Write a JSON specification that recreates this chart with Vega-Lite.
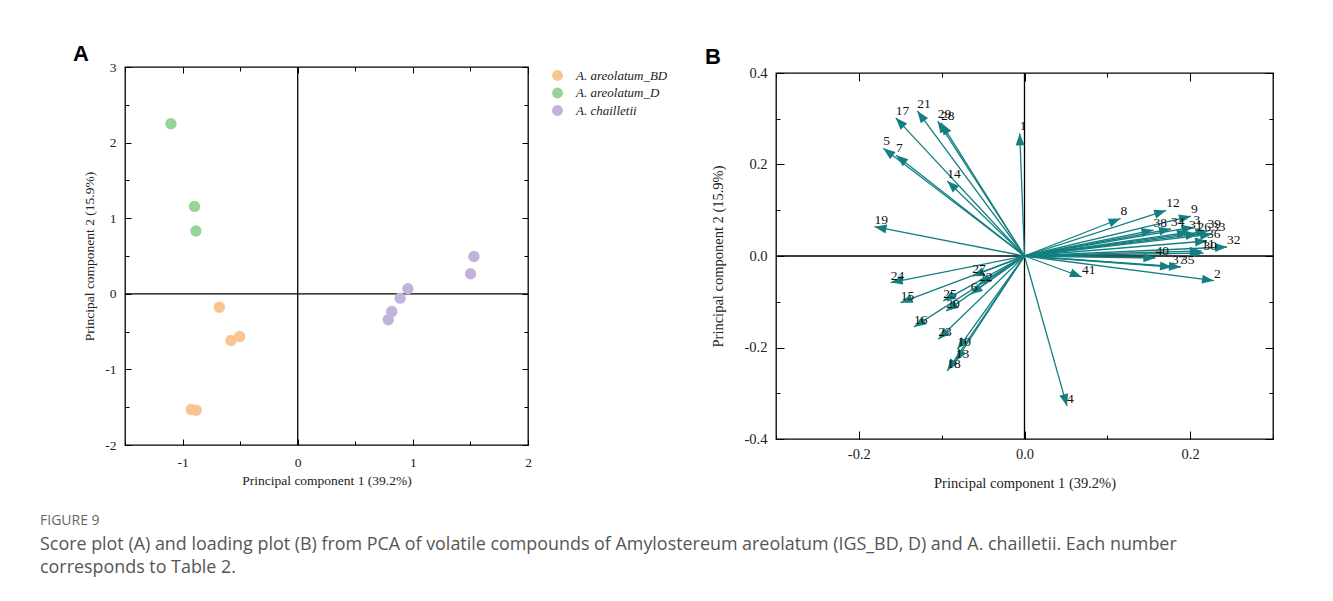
{
  "$schema": "https://vega.github.io/schema/vega-lite/v6.json",
  "background": "white",
  "padding": {"left": 40, "top": 42, "right": 10, "bottom": 10},
  "spacing": 248,
  "bounds": "flush",
  "center": true,
  "resolve": {"scale": {"color": "independent"}, "legend": {"color": "independent"}},
  "title": {
    "text": "FIGURE 9",
    "subtitle": ["Score plot (A) and loading plot (B) from PCA of volatile compounds of Amylostereum areolatum (IGS_BD, D) and A. chailletii. Each number", "corresponds to Table 2."],
    "orient": "bottom", "anchor": "start", "frame": "group", "dx": -85, "offset": 23,
    "font": "Open Sans", "fontSize": 14, "fontWeight": "normal", "color": "#666666",
    "subtitleFont": "Open Sans", "subtitleFontSize": 17.9, "subtitleColor": "#555555",
    "subtitleLineHeight": 23, "subtitlePadding": 8
  },
  "config": {
    "view": {"stroke": "black", "strokeWidth": 1.3},
    "axis": {
      "labelFont": "Liberation Serif", "titleFont": "Liberation Serif", "titleFontWeight": "normal",
      "labelColor": "#222222", "titleColor": "#222222", "domain": false, "grid": false,
      "tickColor": "black", "tickWidth": 1, "labelFlush": false, "labelOverlap": false
    }
  },
  "hconcat": [
    {
      "width": 403, "height": 378,
      "title": {"text": "A", "anchor": "start", "frame": "group", "dx": -52, "offset": -6, "font": "Liberation Sans", "fontSize": 22, "fontWeight": "bold", "color": "black"},
      "layer": [
        {
          "data": {"values": [{}]},
          "mark": {"type": "rule", "color": "black", "strokeWidth": 1.3},
          "encoding": {
            "y": {"datum": 0, "type": "quantitative", "scale": {"domain": [-2, 3], "nice": false, "zero": false},
              "axis": {"orient": "left", "values": [-2, -1.5, -1, -0.5, 0, 0.5, 1, 1.5, 2, 2.5, 3],
                "labelExpr": "datum.value % 1 === 0 ? '' + datum.value : ''",
                "tickSize": {"condition": {"test": "datum.value % 1 === 0", "value": -6}, "value": -4},
                "labelPadding": 15, "labelFontSize": 13.5,
                "title": "Principal component 2 (15.9%)", "titleFontSize": 13.5, "titlePadding": 8}}
          }
        },
        {
          "data": {"values": [{}]},
          "mark": {"type": "rule", "color": "black", "strokeWidth": 1.3},
          "encoding": {
            "x": {"datum": 0, "type": "quantitative", "scale": {"domain": [-1.5, 2], "nice": false, "zero": false},
              "axis": {"orient": "bottom", "values": [-1.5, -1, -0.5, 0, 0.5, 1, 1.5, 2],
                "labelExpr": "datum.value % 1 === 0 ? '' + datum.value : ''",
                "tickSize": {"condition": {"test": "datum.value % 1 === 0", "value": -6}, "value": -4},
                "labelPadding": 16, "labelFontSize": 13.5,
                "title": "Principal component 1 (39.2%)", "titleFontSize": 13.5, "titlePadding": 3}}
          }
        },
        {
          "data": {"values": [
            {"group": "A. areolatum_BD", "pc1": -0.681, "pc2": -0.177},
            {"group": "A. areolatum_BD", "pc1": -0.58, "pc2": -0.618},
            {"group": "A. areolatum_BD", "pc1": -0.504, "pc2": -0.565},
            {"group": "A. areolatum_BD", "pc1": -0.925, "pc2": -1.531},
            {"group": "A. areolatum_BD", "pc1": -0.881, "pc2": -1.54},
            {"group": "A. areolatum_D", "pc1": -1.101, "pc2": 2.25},
            {"group": "A. areolatum_D", "pc1": -0.896, "pc2": 1.156},
            {"group": "A. areolatum_D", "pc1": -0.884, "pc2": 0.83},
            {"group": "A. chailletii", "pc1": 1.53, "pc2": 0.494},
            {"group": "A. chailletii", "pc1": 1.501, "pc2": 0.265},
            {"group": "A. chailletii", "pc1": 0.957, "pc2": 0.066},
            {"group": "A. chailletii", "pc1": 0.89, "pc2": -0.057},
            {"group": "A. chailletii", "pc1": 0.817, "pc2": -0.234},
            {"group": "A. chailletii", "pc1": 0.786, "pc2": -0.344}
          ]},
          "mark": {"type": "point", "filled": true, "opacity": 1, "size": 130, "shape": "circle"},
          "encoding": {
            "x": {"field": "pc1", "type": "quantitative",
              "axis": {"orient": "top", "values": [-1.5, -1, -0.5, 0, 0.5, 1, 1.5, 2], "labels": false, "title": null,
                "tickSize": {"condition": {"test": "datum.value % 1 === 0", "value": -6}, "value": -4}}},
            "y": {"field": "pc2", "type": "quantitative",
              "axis": {"orient": "right", "values": [-2, -1.5, -1, -0.5, 0, 0.5, 1, 1.5, 2, 2.5, 3], "labels": false, "title": null,
                "tickSize": {"condition": {"test": "datum.value % 1 === 0", "value": -6}, "value": -4}}},
            "color": {"field": "group", "type": "nominal",
              "scale": {"domain": ["A. areolatum_BD", "A. areolatum_D", "A. chailletii"], "range": ["#F9C491", "#97D498", "#C3B3DA"]},
              "legend": {"title": null, "orient": "none", "legendX": 426, "legendY": 2, "padding": 0, "labelFont": "Liberation Serif",
                "labelFontStyle": "italic", "labelFontSize": 13, "labelColor": "#222222", "symbolType": "circle",
                "symbolSize": 120, "symbolOpacity": 1, "symbolStrokeWidth": 0, "rowPadding": 3.5, "labelOffset": 12, "labelLimit": 200}}
          }
        }
      ],
      "resolve": {"axis": {"x": "independent", "y": "independent"}}
    },
    {
      "width": 497, "height": 366,
      "title": {"text": "B", "anchor": "start", "frame": "group", "dx": -71, "offset": -4, "font": "Liberation Sans", "fontSize": 22, "fontWeight": "bold", "color": "black"},
      "data": {"values": [
        {"id": "1", "pc1": -0.0058, "pc2": 0.268},
        {"id": "2", "pc1": 0.2288, "pc2": -0.054},
        {"id": "3", "pc1": 0.204, "pc2": 0.063},
        {"id": "4", "pc1": 0.0513, "pc2": -0.328},
        {"id": "5", "pc1": -0.1705, "pc2": 0.2354},
        {"id": "6", "pc1": -0.065, "pc2": -0.0837},
        {"id": "7", "pc1": -0.155, "pc2": 0.22},
        {"id": "8", "pc1": 0.116, "pc2": 0.082},
        {"id": "9", "pc1": 0.201, "pc2": 0.087},
        {"id": "10", "pc1": -0.081, "pc2": -0.204},
        {"id": "11", "pc1": 0.214, "pc2": 0.011},
        {"id": "12", "pc1": 0.171, "pc2": 0.0995},
        {"id": "13", "pc1": -0.083, "pc2": -0.2295},
        {"id": "14", "pc1": -0.0932, "pc2": 0.164},
        {"id": "15", "pc1": -0.1495, "pc2": -0.102},
        {"id": "16", "pc1": -0.1334, "pc2": -0.155},
        {"id": "17", "pc1": -0.1555, "pc2": 0.302},
        {"id": "18", "pc1": -0.0932, "pc2": -0.251},
        {"id": "19", "pc1": -0.181, "pc2": 0.064},
        {"id": "20", "pc1": -0.0944, "pc2": -0.12},
        {"id": "21", "pc1": -0.1294, "pc2": 0.317},
        {"id": "22", "pc1": -0.055, "pc2": -0.062},
        {"id": "23", "pc1": -0.104, "pc2": -0.182},
        {"id": "24", "pc1": -0.1615, "pc2": -0.058},
        {"id": "25", "pc1": -0.098, "pc2": -0.098},
        {"id": "26", "pc1": 0.209, "pc2": 0.048},
        {"id": "27", "pc1": -0.063, "pc2": -0.044},
        {"id": "28", "pc1": -0.1008, "pc2": 0.291},
        {"id": "29", "pc1": -0.1048, "pc2": 0.295},
        {"id": "30", "pc1": 0.216, "pc2": 0.0066},
        {"id": "31", "pc1": 0.1986, "pc2": 0.052},
        {"id": "32", "pc1": 0.2445, "pc2": 0.0197},
        {"id": "33", "pc1": 0.2264, "pc2": 0.048},
        {"id": "34", "pc1": 0.1769, "pc2": 0.059},
        {"id": "35", "pc1": 0.1889, "pc2": -0.024},
        {"id": "36", "pc1": 0.2204, "pc2": 0.0328},
        {"id": "37", "pc1": 0.1781, "pc2": -0.024},
        {"id": "38", "pc1": 0.1557, "pc2": 0.0568},
        {"id": "39", "pc1": 0.2209, "pc2": 0.0546},
        {"id": "40", "pc1": 0.158, "pc2": -0.0044},
        {"id": "41", "pc1": 0.0693, "pc2": -0.0459}
      ]},
      "layer": [
        {
          "data": {"values": [{}]},
          "mark": {"type": "rule", "color": "black", "strokeWidth": 1.3},
          "encoding": {
            "y": {"datum": 0, "type": "quantitative", "scale": {"domain": [-0.4, 0.4], "nice": false, "zero": false},
              "axis": {"orient": "left", "values": [-0.4, -0.3, -0.2, -0.1, 0, 0.1, 0.2, 0.3, 0.4],
                "labelExpr": "abs(round(datum.value * 10)) % 2 === 0 ? replace(format(datum.value, '.1f'), '\u2212', '-') : ''",
                "tickSize": {"condition": {"test": "abs(round(datum.value * 10)) % 2 === 0", "value": -8}, "value": -4},
                "labelPadding": 17, "labelFontSize": 14.5,
                "title": "Principal component 2 (15.9%)", "titleFontSize": 14.5, "titlePadding": 19}}
          }
        },
        {
          "data": {"values": [{}]},
          "mark": {"type": "rule", "color": "black", "strokeWidth": 1.3},
          "encoding": {
            "x": {"datum": 0, "type": "quantitative", "scale": {"domain": [-0.3, 0.3], "nice": false, "zero": false},
              "axis": {"orient": "bottom", "values": [-0.3, -0.2, -0.1, 0, 0.1, 0.2, 0.3],
                "labelExpr": "abs(round(datum.value * 10)) % 2 === 0 ? replace(format(datum.value, '.1f'), '\u2212', '-') : ''",
                "tickSize": {"condition": {"test": "abs(round(datum.value * 10)) % 2 === 0", "value": -8}, "value": -4},
                "labelPadding": 16, "labelFontSize": 14.5,
                "title": "Principal component 1 (39.2%)", "titleFontSize": 14.5, "titlePadding": 12}}
          }
        },
        {
          "mark": {"type": "rule", "color": "#137F80", "strokeWidth": 1.3},
          "encoding": {
            "x": {"field": "pc1", "type": "quantitative",
              "axis": {"orient": "top", "values": [-0.3, -0.2, -0.1, 0, 0.1, 0.2, 0.3], "labels": false, "title": null,
                "tickSize": {"condition": {"test": "abs(round(datum.value * 10)) % 2 === 0", "value": -8}, "value": -4}}},
            "y": {"field": "pc2", "type": "quantitative",
              "axis": {"orient": "right", "values": [-0.4, -0.3, -0.2, -0.1, 0, 0.1, 0.2, 0.3, 0.4], "labels": false, "title": null,
                "tickSize": {"condition": {"test": "abs(round(datum.value * 10)) % 2 === 0", "value": -8}, "value": -4}}},
            "x2": {"datum": 0},
            "y2": {"datum": 0}
          }
        },
        {
          "mark": {"type": "point", "filled": true, "opacity": 1, "color": "#137F80", "size": 144,
            "shape": "M0,0L-0.75,2L0.75,2Z",
            "angle": {"expr": "atan2(datum.pc1 * 828.3, datum.pc2 * 457.5) * 180 / PI"}},
          "encoding": {
            "x": {"field": "pc1", "type": "quantitative", "axis": null},
            "y": {"field": "pc2", "type": "quantitative", "axis": null}
          }
        },
        {
          "mark": {"type": "text", "align": "left", "baseline": "alphabetic", "dy": -3, "font": "Liberation Serif", "fontSize": 13.5, "color": "#111111"},
          "encoding": {
            "x": {"field": "pc1", "type": "quantitative", "axis": null},
            "y": {"field": "pc2", "type": "quantitative", "axis": null},
            "text": {"field": "id", "type": "nominal"}
          }
        }
      ],
      "resolve": {"axis": {"x": "independent", "y": "independent"}}
    }
  ]
}
